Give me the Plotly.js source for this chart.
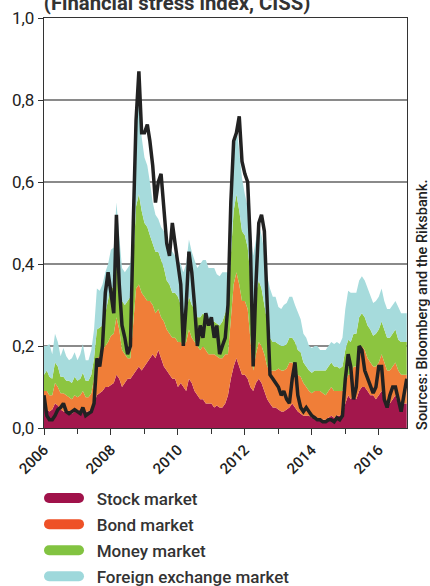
<!DOCTYPE html>
<html>
<head>
<meta charset="utf-8">
<script src="https://cdn.plot.ly/plotly-3.0.1.min.js"></script>
<style>
  html, body { margin: 0; padding: 0; background: #fff; }
  #chart { width: 430px; height: 586px; }
  .legendlines path { stroke-linecap: round !important; }
  .legend .scrollbar { display: none !important; }
</style>
</head>
<body>
<div id="chart"></div>
<script>
// Monthly observations, Jan 2006 - Nov 2016
var startYear = 2006, endYear = 2016, endMonth = 11;

// Component contributions (stacked areas)
var stockMarket = [
  0.05,0.045,0.04,0.045,0.06,0.055,0.045,0.04,0.04,0.035,0.035,0.04,
  0.04,0.045,0.05,0.04,0.04,0.045,0.06,0.08,0.085,0.09,0.1,0.1,
  0.105,0.11,0.13,0.12,0.1,0.11,0.12,0.12,0.13,0.14,0.15,0.14,
  0.15,0.16,0.17,0.18,0.17,0.19,0.17,0.15,0.14,0.13,0.12,0.12,
  0.1,0.11,0.1,0.09,0.12,0.11,0.09,0.08,0.07,0.07,0.06,0.06,
  0.06,0.05,0.055,0.05,0.05,0.06,0.08,0.12,0.15,0.17,0.15,0.13,
  0.13,0.12,0.1,0.09,0.11,0.12,0.11,0.09,0.07,0.06,0.05,0.05,
  0.045,0.04,0.04,0.045,0.05,0.06,0.05,0.04,0.035,0.03,0.03,0.03,
  0.025,0.03,0.025,0.02,0.02,0.02,0.025,0.03,0.025,0.03,0.03,0.035,
  0.06,0.08,0.07,0.08,0.07,0.09,0.1,0.1,0.09,0.08,0.08,0.07,
  0.08,0.09,0.07,0.06,0.06,0.07,0.08,0.06,0.05,0.06,0.06
];
var bondMarket = [
  0.04,0.045,0.04,0.035,0.05,0.045,0.04,0.045,0.04,0.04,0.035,0.04,
  0.035,0.035,0.04,0.035,0.035,0.04,0.06,0.09,0.09,0.1,0.1,0.11,
  0.12,0.12,0.14,0.12,0.09,0.07,0.05,0.05,0.12,0.2,0.2,0.19,
  0.17,0.15,0.14,0.12,0.11,0.1,0.1,0.11,0.1,0.1,0.1,0.1,
  0.11,0.1,0.1,0.12,0.12,0.11,0.12,0.12,0.12,0.13,0.13,0.12,
  0.12,0.13,0.12,0.12,0.12,0.12,0.1,0.15,0.2,0.21,0.2,0.18,
  0.18,0.17,0.12,0.05,0.07,0.09,0.09,0.09,0.08,0.08,0.09,0.09,
  0.1,0.1,0.1,0.1,0.11,0.1,0.1,0.09,0.09,0.08,0.07,0.06,
  0.06,0.06,0.065,0.07,0.065,0.06,0.065,0.07,0.065,0.06,0.06,0.055,
  0.05,0.05,0.06,0.07,0.08,0.1,0.1,0.09,0.08,0.08,0.07,0.08,
  0.08,0.09,0.09,0.08,0.08,0.08,0.08,0.08,0.08,0.07,0.07
];
var moneyMarket = [
  0.04,0.05,0.045,0.04,0.05,0.05,0.04,0.04,0.035,0.04,0.04,0.045,
  0.04,0.04,0.045,0.04,0.04,0.045,0.05,0.07,0.07,0.06,0.08,0.1,
  0.12,0.11,0.14,0.13,0.12,0.12,0.14,0.15,0.16,0.2,0.22,0.2,
  0.18,0.18,0.16,0.15,0.15,0.14,0.14,0.13,0.12,0.12,0.11,0.11,
  0.11,0.09,0.07,0.07,0.08,0.08,0.08,0.07,0.08,0.08,0.08,0.08,
  0.08,0.08,0.08,0.08,0.09,0.1,0.12,0.15,0.18,0.19,0.18,0.17,
  0.16,0.15,0.15,0.16,0.15,0.15,0.14,0.12,0.1,0.08,0.07,0.07,
  0.06,0.06,0.06,0.06,0.06,0.06,0.06,0.06,0.06,0.05,0.05,0.05,
  0.05,0.05,0.05,0.05,0.055,0.06,0.06,0.06,0.06,0.06,0.055,0.06,
  0.08,0.085,0.08,0.08,0.08,0.08,0.08,0.08,0.08,0.08,0.075,0.08,
  0.08,0.08,0.08,0.08,0.08,0.08,0.08,0.075,0.08,0.08,0.08
];
var fxMarket = [
  0.07,0.06,0.08,0.06,0.07,0.06,0.05,0.07,0.06,0.05,0.06,0.06,
  0.05,0.06,0.07,0.05,0.05,0.06,0.07,0.1,0.09,0.1,0.1,0.09,
  0.09,0.1,0.14,0.1,0.08,0.08,0.08,0.08,0.1,0.2,0.22,0.18,
  0.16,0.15,0.13,0.1,0.09,0.08,0.08,0.09,0.1,0.09,0.1,0.09,
  0.09,0.1,0.11,0.12,0.14,0.13,0.12,0.12,0.13,0.13,0.14,0.13,
  0.13,0.13,0.12,0.12,0.12,0.1,0.08,0.12,0.15,0.17,0.15,0.13,
  0.1,0.1,0.11,0.12,0.13,0.14,0.13,0.13,0.12,0.12,0.11,0.11,
  0.09,0.09,0.1,0.1,0.1,0.1,0.09,0.09,0.08,0.07,0.07,0.06,
  0.06,0.06,0.06,0.05,0.05,0.05,0.05,0.05,0.055,0.06,0.06,0.07,
  0.1,0.12,0.12,0.1,0.1,0.09,0.09,0.09,0.09,0.08,0.08,0.08,
  0.08,0.08,0.07,0.07,0.07,0.07,0.07,0.08,0.07,0.07,0.07
];
// Composite indicator (CISS)
var ciss = [
  0.08,0.03,0.02,0.02,0.03,0.045,0.05,0.06,0.04,0.035,0.04,0.045,
  0.04,0.035,0.05,0.03,0.035,0.04,0.06,0.17,0.15,0.2,0.33,0.38,
  0.33,0.28,0.52,0.35,0.25,0.22,0.18,0.2,0.5,0.75,0.87,0.72,
  0.72,0.74,0.7,0.64,0.55,0.6,0.62,0.52,0.45,0.42,0.5,0.45,
  0.4,0.35,0.2,0.3,0.43,0.38,0.3,0.2,0.25,0.22,0.28,0.25,
  0.27,0.22,0.25,0.18,0.2,0.22,0.3,0.55,0.7,0.72,0.76,0.65,
  0.62,0.6,0.45,0.15,0.35,0.5,0.52,0.48,0.3,0.13,0.12,0.11,
  0.1,0.08,0.09,0.07,0.06,0.12,0.16,0.08,0.05,0.04,0.05,0.04,
  0.03,0.025,0.02,0.02,0.015,0.015,0.02,0.02,0.015,0.025,0.02,0.03,
  0.12,0.18,0.15,0.07,0.1,0.2,0.19,0.14,0.12,0.1,0.085,0.1,
  0.15,0.15,0.07,0.05,0.08,0.1,0.1,0.07,0.04,0.08,0.12
];

var seriesNames = ['Stock market', 'Bond market', 'Money market', 'Foreign exchange market'];
var areaColors = ['#A3174C', '#F07E38', '#8CC540', '#A6DBDC'];
var legendColors = ['#A0124A', '#EE5127', '#82C341', '#9ED8DB'];
var titleText = '(Financial stress index, CISS)';
var sourceText = 'Sources: Bloomberg and the Riksbank.';

var dates = [];
for (var y = startYear; y <= endYear; y++) {
  for (var m = 1; m <= 12; m++) {
    if (y === endYear && m > endMonth) break;
    dates.push(y + '-' + (m < 10 ? '0' + m : m) + '-01');
  }
}

var components = [stockMarket, bondMarket, moneyMarket, fxMarket];
var traces = [];
components.forEach(function (vals, i) {
  traces.push({
    type: 'scatter', mode: 'lines', x: dates, y: vals,
    stackgroup: 'one', line: { width: 0, color: areaColors[i] },
    fillcolor: areaColors[i], showlegend: false, hoverinfo: 'skip'
  });
});
traces.push({
  type: 'scatter', mode: 'lines', x: dates, y: ciss,
  line: { color: '#222222', width: 3.5 }, showlegend: false, hoverinfo: 'skip'
});
seriesNames.forEach(function (nm, i) {
  traces.push({
    type: 'scatter', mode: 'lines', x: [null], y: [null],
    name: '&nbsp;&nbsp;&nbsp;' + nm, legendgroup: 'g' + i,
    line: { color: legendColors[i], width: 10 }, showlegend: true
  });
});

var fontFam = 'Roboto, "Open Sans", sans-serif';
var layout = {
  width: 430, height: 586,
  margin: { l: 44, r: 23, t: 18, b: 158, autoexpand: false },
  paper_bgcolor: '#ffffff', plot_bgcolor: '#ffffff',
  separators: ', ',
  font: { family: fontFam, color: '#222' },
  showlegend: true,
  legend: {
    x: 0, xanchor: 'left', y: -0.128, yanchor: 'top',
    orientation: 'v', traceorder: 'grouped', itemwidth: 30, tracegroupgap: 1,
    font: { family: fontFam, size: 17, color: '#333', weight: 500 },
    bgcolor: 'rgba(0,0,0,0)', borderwidth: 0
  },
  xaxis: {
    type: 'date', range: ['2006-01-01', '2016-11-04'],
    tick0: '2006-01-01', dtick: 'M24', tickformat: '%Y', tickangle: -45,
    ticks: 'outside', ticklen: 6, tickcolor: '#333', tickwidth: 1,
    showline: true, linecolor: '#333', linewidth: 1.2, mirror: true,
    showgrid: false, zeroline: false, automargin: false,
    tickfont: { size: 15, color: '#222', family: fontFam, weight: 500 },
    minor: { dtick: 'M12', tick0: '2006-01-01', ticks: 'outside', ticklen: 5, tickcolor: '#333', showgrid: false }
  },
  yaxis: {
    range: [0, 1], dtick: 0.2, tick0: 0, tickformat: '.1f',
    ticks: 'outside', ticklen: 5, tickcolor: '#333',
    showline: true, linecolor: '#333', linewidth: 1.2, mirror: true,
    showgrid: true, gridcolor: '#8a8a8a', gridwidth: 1.3, zeroline: false, automargin: false,
    tickfont: { size: 17, color: '#222', family: fontFam }
  },
  title: {
    text: '<b>' + titleText + '</b>', x: 0.102, xanchor: 'left',
    yref: 'container', y: 0.995, yanchor: 'middle',
    font: { family: fontFam, size: 20.3, color: '#333' }
  },
  annotations: [{
    text: sourceText, xref: 'paper', yref: 'paper',
    x: 1.041, y: 0.30, xanchor: 'center', yanchor: 'middle',
    textangle: -90, showarrow: false,
    font: { family: fontFam, size: 14.5, color: '#222', weight: 500 }
  }]
};

Plotly.newPlot('chart', traces, layout, { staticPlot: true, displayModeBar: false });
</script>
</body>
</html>
